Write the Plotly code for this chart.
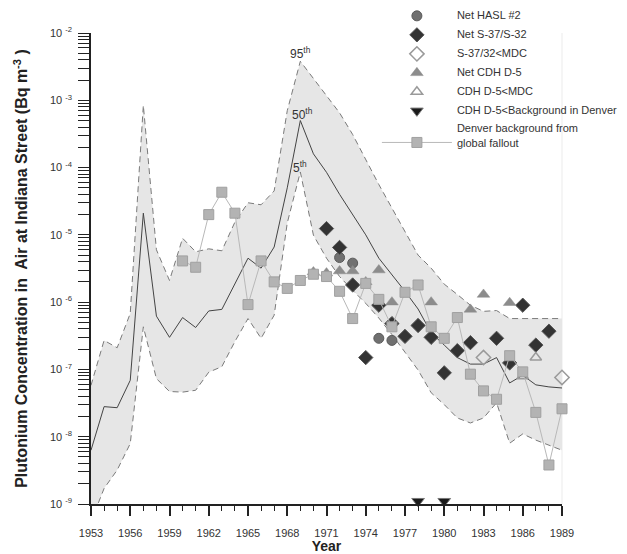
import plotly.graph_objects as go

years = list(range(1953, 1990))

p95 = [5.8e-8, 2.7e-7, 2.1e-7, 6.8e-7, 8.4e-4, 6.0e-6, 2.1e-6, 8.9e-6, 5.6e-6, 6.2e-6,
       5.8e-6, 1.55e-5, 3.0e-5, 2.8e-5, 4.5e-5, 7.0e-4, 3.8e-3, 2.1e-3, 1.2e-3, 6.5e-4,
       3.1e-4, 1.3e-4, 5.6e-5, 2.5e-5, 1.1e-5, 5.0e-6, 3.2e-6, 1.85e-6, 1.3e-6, 9.0e-7,
       7.3e-7, 7.5e-7, 5.7e-7, 5.7e-7, 5.7e-7, 5.7e-7, 5.7e-7]
p50 = [6.3e-9, 2.8e-8, 2.7e-8, 6.9e-8, 2.1e-5, 6.2e-7, 3.0e-7, 5.9e-7, 4.2e-7, 7.4e-7,
       7.8e-7, 1.9e-6, 4.5e-6, 3.2e-6, 6.6e-6, 5.0e-5, 5.0e-4, 1.6e-4, 8.5e-5, 4.0e-5,
       2.0e-5, 1.0e-5, 4.5e-6, 2.6e-6, 1.45e-6, 7.9e-7, 3.5e-7, 2.3e-7, 1.5e-7, 1.2e-7,
       1.2e-7, 1.5e-7, 6.3e-8, 8.2e-8, 5.9e-8, 5.5e-8, 5.3e-8]
p5 = [5.5e-10, 1.7e-9, 3.2e-9, 7.9e-9, 4.3e-7, 7.3e-8, 4.7e-8, 4.6e-8, 4.9e-8, 9.1e-8,
      1.1e-7, 2.6e-7, 5.7e-7, 2.9e-7, 6.4e-7, 1.5e-5, 8.6e-5, 9.9e-6, 4.5e-6, 2.4e-6,
      1.5e-6, 9.6e-7, 5.8e-7, 3.3e-7, 1.8e-7, 9.8e-8, 4.5e-8, 3.0e-8, 1.9e-8, 1.6e-8,
      1.9e-8, 3.2e-8, 8.0e-9, 1.1e-8, 8.9e-9, 7.5e-9, 6.3e-9]

denver_years = list(range(1960, 1990))
denver_vals = [4.1e-6, 3.3e-6, 2.0e-5, 4.3e-5, 2.1e-5, 9.2e-7, 4.1e-6, 2.0e-6, 1.6e-6, 2.1e-6,
               2.6e-6, 2.4e-6, 1.45e-6, 5.7e-7, 1.9e-6, 1.1e-6, 4.3e-7, 1.4e-6, 1.8e-6, 4.3e-7,
               2.9e-7, 5.9e-7, 8.5e-8, 4.8e-8, 3.6e-8, 1.6e-7, 9.2e-8, 2.3e-8, 3.8e-9, 2.6e-8]

hasl_years = [1972, 1973, 1975, 1976]
hasl_vals = [4.6e-6, 3.8e-6, 2.9e-7, 2.7e-7]

s37_years = [1971, 1972, 1973, 1974, 1975, 1976, 1977, 1978, 1979, 1980, 1981, 1982,
             1984, 1985, 1986, 1987, 1988]
s37_vals = [1.24e-5, 6.5e-6, 1.8e-6, 1.5e-7, 9.0e-7, 4.8e-7, 3.1e-7, 4.5e-7, 3.0e-7, 8.9e-8,
            1.9e-7, 2.5e-7, 2.9e-7, 1.25e-7, 9.0e-7, 2.3e-7, 3.7e-7]

s37mdc_years = [1983, 1989]
s37mdc_vals = [1.5e-7, 7.6e-8]

cdh_years = [1970, 1971, 1972, 1973, 1974, 1975, 1976, 1979, 1982, 1983, 1985]
cdh_vals = [2.8e-6, 2.7e-6, 2.9e-6, 2.9e-6, 2.0e-6, 3.0e-6, 1.0e-6, 1.0e-6, 7.8e-7, 1.3e-6, 9.8e-7]

cdhmdc_years = [1986, 1987]
cdhmdc_vals = [7.9e-8, 1.5e-7]

cdhbg_years = [1978, 1980]
cdhbg_vals = [1.1e-9, 1.1e-9]

ytick_vals = [1e-9, 1e-8, 1e-7, 1e-6, 1e-5, 1e-4, 1e-3, 1e-2]
ytick_text = ["10 <sup>-9</sup>", "10 <sup>-8</sup>", "10 <sup>-7</sup>", "10 <sup>-6</sup>",
              "10 <sup>-5</sup>", "10 <sup>-4</sup>", "10 <sup>-3</sup>", "10 <sup>-2</sup>"]

FONT = "Liberation Sans, Arial, Helvetica, sans-serif"
fig = go.Figure()

# shaded band between 5th and 95th percentiles
fig.add_trace(go.Scatter(x=years, y=p5, mode="lines", line=dict(width=0),
                         showlegend=False, hoverinfo="skip"))
fig.add_trace(go.Scatter(x=years, y=p95, mode="lines", line=dict(width=0),
                         fill="tonexty", fillcolor="#e6e6e6",
                         showlegend=False, hoverinfo="skip"))
fig.add_trace(go.Scatter(x=years, y=p5, mode="lines",
                         line=dict(color="#7a7a7a", width=1, dash="6px,4px"),
                         showlegend=False))
fig.add_trace(go.Scatter(x=years, y=p95, mode="lines",
                         line=dict(color="#7a7a7a", width=1, dash="6px,4px"),
                         showlegend=False))
fig.add_trace(go.Scatter(x=years, y=p50, mode="lines",
                         line=dict(color="#444444", width=1),
                         showlegend=False))

fig.add_trace(go.Scatter(x=hasl_years, y=hasl_vals, mode="markers", name="Net HASL #2",
                         marker=dict(symbol="circle", size=10, color="#707070",
                                     line=dict(color="#5a5a5a", width=1)),
                         cliponaxis=False))
fig.add_trace(go.Scatter(x=s37_years, y=s37_vals, mode="markers", name="Net S-37/S-32",
                         marker=dict(symbol="diamond", size=11, color="#333333",
                                     line=dict(color="#555555", width=1)),
                         cliponaxis=False))
fig.add_trace(go.Scatter(x=s37mdc_years, y=s37mdc_vals, mode="markers", name="S-37/32<MDC",
                         marker=dict(symbol="diamond-open", size=11, color="#9a9a9a",
                                     line=dict(width=1.5)),
                         cliponaxis=False))
fig.add_trace(go.Scatter(x=cdh_years, y=cdh_vals, mode="markers", name="Net CDH D-5",
                         marker=dict(symbol="triangle-up", size=11, color="#8c8c8c",
                                     line=dict(color="#8c8c8c", width=0.5)),
                         cliponaxis=False))
fig.add_trace(go.Scatter(x=cdhmdc_years, y=cdhmdc_vals, mode="markers", name="CDH D-5<MDC",
                         marker=dict(symbol="triangle-up-open", size=10, color="#9a9a9a",
                                     line=dict(width=1.5)),
                         cliponaxis=False))
fig.add_trace(go.Scatter(x=cdhbg_years, y=cdhbg_vals, mode="markers",
                         name="CDH D-5<Background in Denver",
                         marker=dict(symbol="triangle-down", size=11, color="#1a1a1a",
                                     line=dict(color="#777777", width=1)),
                         cliponaxis=False))
fig.add_trace(go.Scatter(x=denver_years, y=denver_vals, mode="lines+markers",
                         name="Denver background from<br>global fallout",
                         line=dict(color="#b8b8b8", width=1),
                         marker=dict(symbol="square", size=10, color="#b3b3b3",
                                     line=dict(color="#a0a0a0", width=1)),
                         cliponaxis=False))

ann_font = dict(family=FONT, size=12, color="#333333")
fig.add_annotation(x=1969.0, y=-2.30, text="95<sup>th</sup>", showarrow=False, font=ann_font,
                   xref="x", yref="y")
fig.add_annotation(x=1969.2, y=-3.21, text="50<sup>th</sup>", showarrow=False, font=ann_font,
                   xref="x", yref="y")
fig.add_annotation(x=1969.0, y=-3.99, text="5<sup>th</sup>", showarrow=False, font=ann_font,
                   xref="x", yref="y")

# faint right border of the plotting area
fig.add_shape(type="line", xref="paper", yref="paper", x0=1, x1=1, y0=0, y1=1,
              line=dict(color="#ebebeb", width=1), layer="below")

fig.update_layout(
    width=619, height=546,
    margin=dict(l=83, r=65, t=25, b=50, autoexpand=False),
    paper_bgcolor="white", plot_bgcolor="white",
    font=dict(family=FONT, size=11, color="#333333"),
    showlegend=True,
    legend=dict(x=0.607, y=1.069, xanchor="left", yanchor="top",
                bgcolor="rgba(0,0,0,0)", itemwidth=70, valign="bottom",
                traceorder="normal",
                font=dict(family=FONT, size=11, color="#333333"),
                tracegroupgap=0),
)
fig.update_xaxes(
    range=[1953, 1989], tick0=1953, dtick=3, ticks="outside", ticklen=10, tickwidth=1.5,
    tickcolor="#222222", showline=True, linecolor="#222222", linewidth=1.5,
    showgrid=False, zeroline=False, ticklabelstandoff=8,
    tickfont=dict(family=FONT, size=11, color="#333333"),
    minor=dict(dtick=1, tick0=1953, ticks="outside", ticklen=5, tickwidth=1.2,
               tickcolor="#222222", showgrid=False),
    title=dict(text="<b>Year</b>", font=dict(family=FONT, size=14, color="#222222"),
               standoff=4),
)
fig.update_yaxes(
    type="log", range=[-9, -2], tickvals=ytick_vals, ticktext=ytick_text,
    ticks="outside", ticklen=11, tickwidth=1.2, tickcolor="#222222",
    showline=True, linecolor="#222222", linewidth=1.5,
    showgrid=False, zeroline=False, ticklabelstandoff=4,
    tickfont=dict(family=FONT, size=11, color="#333333"),
    minor=dict(dtick="D1", ticks="outside", ticklen=11, tickwidth=1, tickcolor="#222222",
               showgrid=False),
    title=dict(text="<b>Plutonium Concentration in  Air at Indiana Street (Bq m<sup>-3</sup> )</b>",
               font=dict(family=FONT, size=16, color="#222222"), standoff=18),
)

fig.write_html("out.html")
